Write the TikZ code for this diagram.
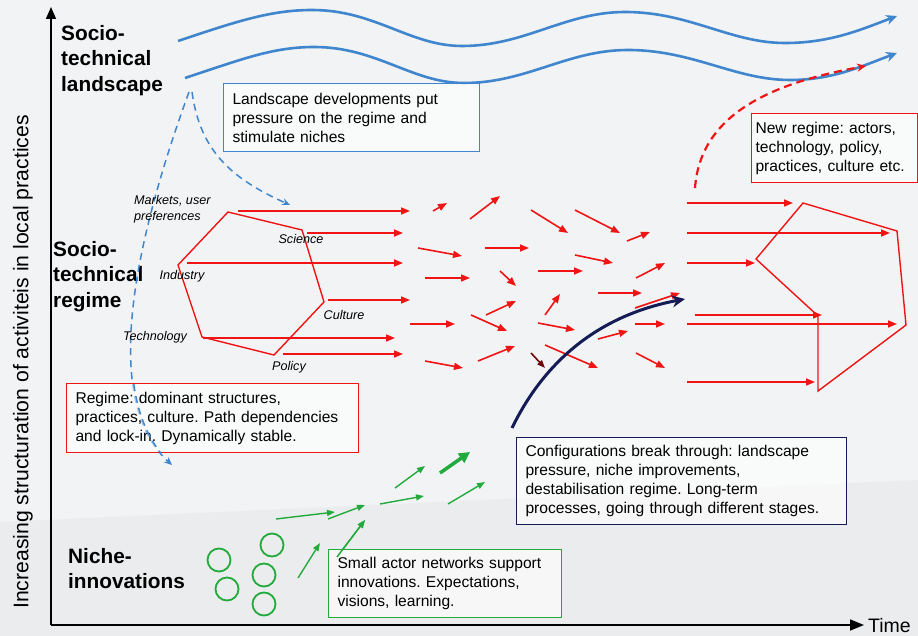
\documentclass[tikz,border=0pt]{standalone}
\usepackage{fontspec}
\setmainfont{Liberation Sans}
\usetikzlibrary{arrows.meta}
\frenchspacing
\definecolor{bg}{HTML}{F2F3F4}
\definecolor{bgdark}{HTML}{EBECED}
\definecolor{lblue}{HTML}{3F86CF}
\definecolor{rred}{HTML}{F01414}
\definecolor{ggreen}{HTML}{22AA3C}
\definecolor{navy}{HTML}{141B55}
\definecolor{dred}{HTML}{6E0A0A}
\begin{document}
\frenchspacing
\begin{tikzpicture}[x=1pt,y=-1pt,
  redarrow/.style={draw=rred, line width=1.6pt, -{Triangle[length=9pt,width=7pt]}},
  greenarrow/.style={draw=ggreen, line width=1.4pt, -{Triangle[length=8pt,width=6pt]}},
  wave/.style={draw=lblue, line width=2.6pt, -{Stealth[length=11pt,width=10pt]}},
  bluedash/.style={draw=lblue, line width=1.5pt, dash pattern=on 7pt off 5pt, -{Stealth[length=8pt,width=7pt]}},
  textbox/.style={anchor=north west, line width=1.1pt, fill=white, fill opacity=0.6, text opacity=1,
    align=left, font=\frenchspacing\fontsize{15.6}{19}\selectfont, inner ysep=0pt},
  bigtitle/.style={anchor=north west, inner sep=0pt, align=left, font=\bfseries\fontsize{20.8}{25.5}\selectfont},
  itlabel/.style={inner sep=0pt, font=\itshape\fontsize{12.6}{15.5}\selectfont, align=left},
  niche/.style={draw=ggreen, line width=1.8pt}]
% canvas
\fill[bg] (0,0) rectangle (918,636);
\fill[bgdark] (0,522) -- (918,480) -- (918,636) -- (0,636) -- cycle;
\useasboundingbox (0,0) rectangle (918,636);

% axes
\coordinate (origin) at (51,625);
\coordinate (ytop) at (51,7);
\coordinate (xend) at (864,625);
\draw[line width=1.6pt, -{Triangle[length=12pt,width=10pt]}] (origin) -- (ytop);
\draw[line width=1.6pt, -{Triangle[length=14pt,width=11pt]}] (origin) -- (xend);
\node[anchor=west, inner sep=0pt, font=\fontsize{19.5}{22}\selectfont] (time) at (868,626) {Time};
\node[rotate=90, inner sep=0pt, font=\fontsize{21.2}{24}\selectfont] (ylab) at (23,362)
  {Increasing structuration of activiteis in local practices};

% level titles
\node[bigtitle] (land) at (61,25) {Socio-\\technical\\landscape};
\node[bigtitle] (reg) at (53,241) {Socio-\\technical\\regime};
\node[bigtitle] (nich) at (68,548) {Niche-\\innovations};

% landscape waves
\draw[wave] (178,41) .. controls (235,22) and (270,10) .. (312,10)
  .. controls (375,10) and (410,46) .. (462,46)
  .. controls (525,46) and (565,12) .. (625,12)
  .. controls (690,12) and (730,43) .. (785,43)
  .. controls (830,43) and (860,30) .. (897,16);
\draw[wave] (185,78) .. controls (240,60) and (272,47) .. (314,47)
  .. controls (377,47) and (412,83) .. (464,83)
  .. controls (527,83) and (567,50) .. (628,50)
  .. controls (693,50) and (735,80) .. (790,80)
  .. controls (833,80) and (862,66) .. (897,53);

% landscape pressure (dashed)
\draw[bluedash] (192,92) .. controls (200,150) and (230,178) .. (290,205);
\draw[bluedash] (189,92) .. controls (135,240) and (100,400) .. (172,465);

% regime hexagon
\draw[rred, line width=1.4pt] (228,212) -- (302,230) -- (324,302) -- (274,355) -- (202,337) -- (178,265) -- cycle;
\node[itlabel, anchor=west] (mk) at (134,209) {Markets, user\\preferences};
\node[itlabel] (sci) at (301,239) {Science};
\node[itlabel] (ind) at (182,276) {Industry};
\node[itlabel] (cul) at (344,315) {Culture};
\node[itlabel] (tec) at (155,337) {Technology};
\node[itlabel] (pol) at (289,367) {Policy};

% arrows leaving regime
\foreach \a/\b/\c/\d in {238/211/410/211, 307/233/403/233, 187/263/403/263, 328/300/410/300,
  203/338/395/338, 283/354/403/354}
  \draw[redarrow] (\a,\b) -- (\c,\d);

% turbulent arrows
\foreach \a/\b/\c/\d in {433/211/447/203, 470/219/500/196, 531/210/568/233, 575/210/620/233,
  627/241/650/232, 418/248/462/256, 485/248/529/248, 575/255/613/263, 425/278/470/278,
  500/271/516/286, 538/271/583/271, 636/278/665/263, 486/315/516/301, 545/315/560/294,
  598/293/642/293, 635/308/680/293, 410/324/455/324, 471/315/507/331, 538/323/575/330,
  598/339/628/331, 635/324/665/324, 425/361/463/368, 478/361/515/346, 545/345/598/368,
  636/353/665/368}
  \draw[redarrow] (\a,\b) -- (\c,\d);
\draw[draw=dred, line width=1.6pt, -{Triangle[length=8pt,width=6pt]}] (531,353) -- (545,368);

% new regime arrows
\foreach \a/\b/\c/\d in {687/203/793/203, 687/233/890/233, 687/263/755/263, 695/315/822/315,
  687/324/897/324, 687/382/815/382}
  \draw[redarrow] (\a,\b) -- (\c,\d);
\draw[rred, line width=1.4pt] (803,203) -- (897,231) -- (906,325) -- (818,391) -- (818,316) -- (756,259) -- cycle;

% new regime influences landscape
\draw[rred, line width=2.2pt, dash pattern=on 8pt off 5pt, -{Stealth[length=9pt,width=8pt]}]
  (695,188) .. controls (700,120) and (760,85) .. (866,66);

% breakthrough
\draw[navy, line width=3pt, -{Stealth[length=13pt,width=12pt]}]
  (512,428) .. controls (545,360) and (600,315) .. (685,299);

% niche innovations
\foreach \x/\y in {219/560, 227/589, 272/545, 264/575, 264/604}
  \draw[niche] (\x,\y) circle (11.5);
\foreach \a/\b/\c/\d in {276/519/335/512, 328/519/365/505, 298/578/320/543, 337/557/365/520,
  380/504/424/496, 395/488/425/466, 448/504/485/482}
  \draw[greenarrow] (\a,\b) -- (\c,\d);
\draw[draw=ggreen, line width=3.5pt, -{Triangle[length=11pt,width=11pt]}] (440,473) -- (470,452);

% text boxes
\node[textbox, draw=lblue, minimum width=256pt, minimum height=68pt, text width=238pt, inner xsep=9pt] (lbox) at (223,83)
  {Landscape developments put\\pressure on the regime and\\stimulate niches};
\node[textbox, draw=rred, minimum width=166pt, minimum height=69pt, text width=158pt, inner xsep=4pt] (nbox) at (751,113)
  {New regime: actors,\\technology, policy,\\practices, culture etc.};
\node[textbox, draw=rred, minimum width=292pt, minimum height=69pt, text width=274pt, inner xsep=9pt] (rbox) at (66,383)
  {Regime: dominant structures,\\practices, culture. Path dependencies\\and lock-in. Dynamically stable.};
\node[textbox, draw=navy, minimum width=330pt, minimum height=87pt, text width=312pt, inner xsep=9pt] (cbox) at (516,437)
  {Configurations break through: landscape\\pressure, niche improvements,\\destabilisation regime. Long-term\\processes, going through different stages.};
\node[textbox, draw=ggreen, minimum width=233pt, minimum height=68pt, text width=215pt, inner xsep=9pt] (gbox) at (328,549)
  {Small actor networks support\\innovations. Expectations,\\visions, learning.};

% dashed line passes over regime box
\begin{scope}
\clip (66,383) rectangle (358,452);
\draw[lblue, line width=1.5pt, dash pattern=on 7pt off 5pt] (189,92) .. controls (135,240) and (100,400) .. (172,465);
\end{scope}
% green arrow passes over niche box
\draw[greenarrow] (337,557) -- (365,520);
\end{tikzpicture}
\end{document}
